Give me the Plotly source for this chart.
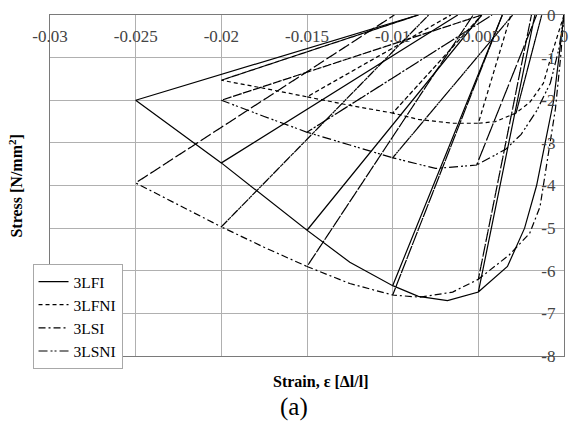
import plotly.graph_objects as go

# ---- data: stress-strain envelopes, cycle peaks and residual strains ----
series_names = ["3LFI", "3LFNI", "3LSI", "3LSNI"]

# 3LFI
lfi_env_strain = [0, -0.0003, -0.0006, -0.0011, -0.0016, -0.0023, -0.0033, -0.005,
                  -0.0068, -0.0085, -0.01, -0.0125, -0.015, -0.02, -0.025]
lfi_env_stress = [0, -1.0, -2.0, -3.0, -4.0, -5.0, -5.9, -6.5,
                  -6.7, -6.6, -6.35, -5.8, -5.05, -3.47, -2.0]
lfi_cycle_strain = [-0.005, -0.01, -0.015, -0.02, -0.025]
lfi_residual = [-0.0017, -0.0036, -0.0048, -0.0062, -0.0085]

# 3LFNI
lfni_env_strain = [0, -0.0004, -0.0007, -0.0012, -0.002, -0.0028, -0.004, -0.005,
                   -0.0065, -0.0085, -0.01, -0.0125, -0.015, -0.0175, -0.02]
lfni_env_stress = [0, -0.5, -0.9, -1.6, -2.05, -2.3, -2.5, -2.54,
                   -2.54, -2.45, -2.3, -2.12, -1.92, -1.72, -1.53]
lfni_cycle_strain = [-0.0028, -0.005, -0.01, -0.015, -0.02]
lfni_residual = [-0.0013, -0.0031, -0.0048, -0.0066, -0.0085]

# 3LSI
lsi_env_strain = [0, -0.0002, -0.0005, -0.0009, -0.0014, -0.002, -0.0032, -0.005,
                  -0.0065, -0.0084, -0.01, -0.0125, -0.015, -0.0175, -0.02, -0.025]
lsi_env_stress = [0, -1.0, -2.2, -3.25, -4.5, -5.12, -5.63, -6.2,
                  -6.5, -6.62, -6.57, -6.3, -5.9, -5.45, -4.97, -3.94]
lsi_cycle_strain = [-0.005, -0.01, -0.015, -0.02, -0.025]
lsi_residual = [-0.0019, -0.0036, -0.0053, -0.0079, -0.0099]

# 3LSNI
lsni_env_strain = [0, -0.0003, -0.0008, -0.0016, -0.0025, -0.0034, -0.0051,
                   -0.0075, -0.01, -0.0125, -0.015, -0.0175, -0.02]
lsni_env_stress = [0, -0.8, -1.6, -2.25, -2.8, -3.15, -3.52,
                   -3.6, -3.35, -3.05, -2.75, -2.38, -2.0]
lsni_cycle_strain = [-0.0051, -0.01, -0.015, -0.02]
lsni_residual = [-0.0016, -0.003, -0.0042, -0.0048]

x_tick_vals = [-0.03, -0.025, -0.02, -0.015, -0.01, -0.005, 0]
x_tick_text = ["-0.03", "-0.025", "-0.02", "-0.015", "-0.01", "-0.005", "0"]
y_tick_vals = [0, -1, -2, -3, -4, -5, -6, -7, -8]
y_tick_text = ["0", "-1", "-2", "-3", "-4", "-5", "-6", "-7", "-8"]


def hysteresis_path(env_x, env_y, cyc_x, res_x):
    """Follow the envelope; at each cycle peak unload to zero stress and reload."""
    xs, ys = [], []
    for x, y in zip(env_x, env_y):
        xs.append(x)
        ys.append(y)
        if x in cyc_x:
            r = res_x[cyc_x.index(x)]
            xs += [r, x]
            ys += [0, y]
    return xs, ys


series = [
    (lfi_env_strain, lfi_env_stress, lfi_cycle_strain, lfi_residual, "solid"),
    (lfni_env_strain, lfni_env_stress, lfni_cycle_strain, lfni_residual, "4px,3px"),
    (lsi_env_strain, lsi_env_stress, lsi_cycle_strain, lsi_residual, "7px,3px,2px,3px"),
    (lsni_env_strain, lsni_env_stress, lsni_cycle_strain, lsni_residual,
     "9px,3px,2px,2px,2px,3px"),
]

FONT = "Liberation Serif"

fig = go.Figure()
for name, (ex, ey, cx, rx, dash) in zip(series_names, series):
    px_, py_ = hysteresis_path(ex, ey, cx, rx)
    fig.add_trace(go.Scatter(
        x=px_, y=py_, mode="lines", name=name,
        line=dict(color="black", width=1.2, dash=dash),
    ))

fig.update_layout(
    width=570, height=428,
    margin=dict(l=50, r=2, t=15, b=72),
    paper_bgcolor="white", plot_bgcolor="white",
    font=dict(family=FONT, size=17, color="black"),
    showlegend=True,
    legend=dict(
        x=-0.034, y=-0.038, xanchor="left", yanchor="bottom",
        bgcolor="white", bordercolor="#a8a8a8", borderwidth=1,
        font=dict(family=FONT, size=15.5, color="black"),
        itemwidth=30, tracegroupgap=0,
    ),
    xaxis=dict(
        range=[-0.03, 0], side="top",
        tickvals=x_tick_vals, ticktext=x_tick_text,
        tickfont=dict(family=FONT, size=17),
        ticklabelposition="inside", ticklabeloverflow="allow",
        ticks="", ticklabelstandoff=16,
        showgrid=True, gridcolor="#b0b0b0", gridwidth=1,
        showline=True, linecolor="#7a7a7a", linewidth=1, mirror=True,
        zeroline=False,
    ),
    yaxis=dict(
        range=[-8, 0], side="right",
        tickvals=y_tick_vals, ticktext=y_tick_text,
        tickfont=dict(family=FONT, size=17),
        ticklabelposition="inside", ticklabeloverflow="allow",
        ticks="", ticklabelstandoff=9,
        showgrid=True, gridcolor="#b0b0b0", gridwidth=1,
        showline=True, linecolor="#7a7a7a", linewidth=1, mirror=True,
        zeroline=False,
    ),
    annotations=[
        dict(text="<b>Stress [N/mm<sup>2</sup>]</b>", textangle=-90,
             xref="paper", yref="paper", x=-0.068, y=0.5,
             xanchor="center", yanchor="middle", showarrow=False,
             font=dict(family=FONT, size=16)),
        dict(text="<b>Strain, ε [Δl/l]</b>",
             xref="paper", yref="paper", x=0.528, y=-0.075,
             xanchor="center", yanchor="middle", showarrow=False,
             font=dict(family=FONT, size=16)),
        dict(text="(a)",
             xref="paper", yref="paper", x=0.475, y=-0.15,
             xanchor="center", yanchor="middle", showarrow=False,
             font=dict(family=FONT, size=25)),
    ],
)

fig.write_html("out.html")
